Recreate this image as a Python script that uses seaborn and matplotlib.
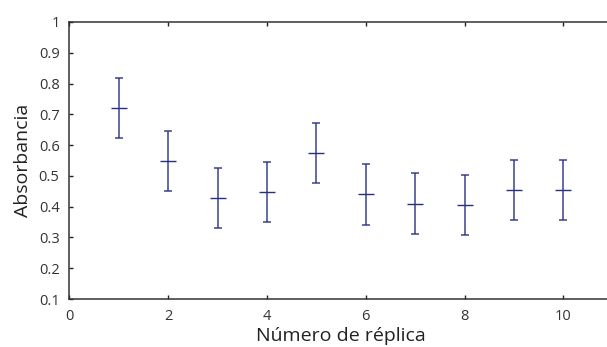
import numpy as np
import pandas as pd
import matplotlib
matplotlib.use('Agg')
import matplotlib.pyplot as plt
import seaborn as sns

replica = [1, 2, 3, 4, 5, 6, 7, 8, 9, 10]
absorbancia = [0.72, 0.548, 0.429, 0.448, 0.574, 0.440, 0.410, 0.405, 0.455, 0.455]
error = [0.097, 0.098, 0.098, 0.098, 0.098, 0.098, 0.098, 0.098, 0.097, 0.097]

df = pd.DataFrame({'Replica': replica, 'Absorbancia': absorbancia, 'Error': error})

sns.set_style('ticks')
plt.rcParams['font.family'] = ['Open Sans', 'DejaVu Sans']

color = '#26307f'
fig = plt.figure(figsize=(6.07, 3.47), dpi=100)
ax = fig.add_axes([0.1142, 0.1383, 0.8955, 0.7983])

ax.errorbar(df['Replica'], df['Absorbancia'], yerr=df['Error'], fmt='none',
            ecolor=color, elinewidth=1.1, capsize=3, capthick=1.1, alpha=0.9)
sns.scatterplot(data=df, x='Replica', y='Absorbancia', marker='_', s=120,
                color=color, linewidth=1.0, ax=ax, zorder=3)

ax.set_xlim(0, 11)
ax.set_ylim(0.1, 1)
ax.set_xticks([0, 2, 4, 6, 8, 10])
ax.set_yticks(np.arange(1, 11) / 10)
ax.set_yticklabels(['0.1', '0.2', '0.3', '0.4', '0.5', '0.6', '0.7', '0.8', '0.9', '1'])
ax.tick_params(direction='in', length=3, width=1, labelsize=10.5, colors='#333333',
               top=True, right=True, pad=7)
ax.tick_params(axis='both', color='#222222')
for s in ax.spines.values():
    s.set_color('#333333')
    s.set_linewidth(1.1)

ax.set_xlabel('Número de réplica', fontsize=14, color='#222222', labelpad=2)
ax.set_ylabel('Absorbancia', fontsize=14, color='#222222', labelpad=5)

plt.savefig('out.png', dpi=100)
